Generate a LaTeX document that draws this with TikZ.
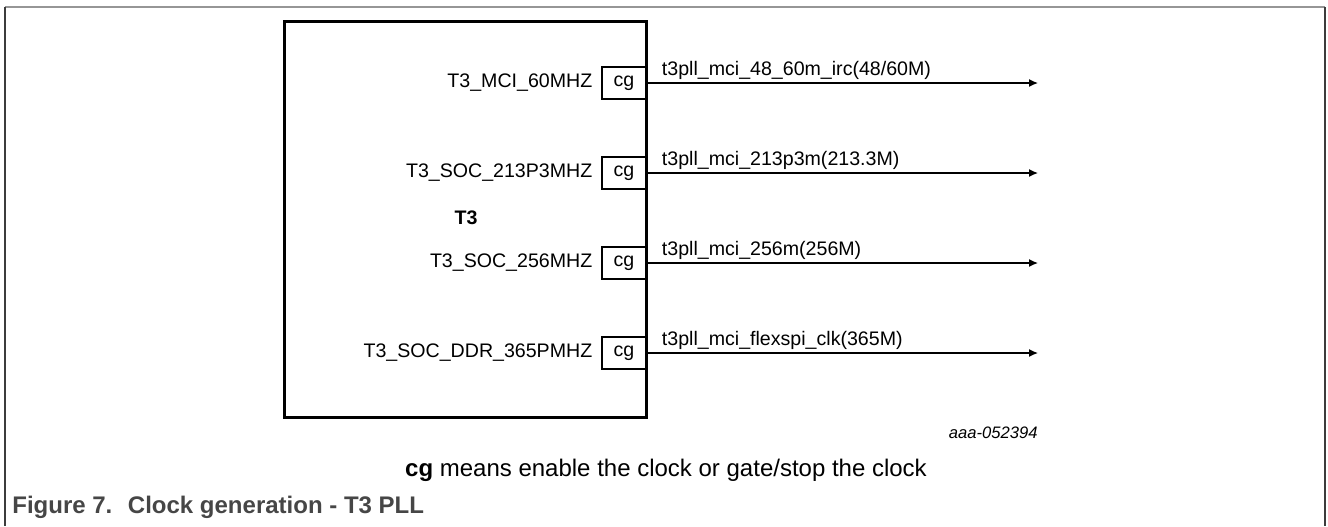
\documentclass[tikz,border=0pt]{standalone}
\usepackage{fontspec}
\setmainfont{Liberation Sans}
\usepackage{tikz}
\usetikzlibrary{positioning, arrows.meta}

\definecolor{framegray}{RGB}{150,150,150}
\definecolor{sidegray}{RGB}{60,60,60}
\definecolor{captiongray}{RGB}{70,70,70}

\begin{document}
\begin{tikzpicture}[
    x=0.5pt, y=-0.5pt,
    node distance=45pt,
    every node/.style={font=\fontsize{9.8}{11}\selectfont, inner sep=0pt},
    >={Latex[length=4.5pt, width=4pt]},
    arrow/.style={->, line width=0.65pt},
    pllbox/.style={rectangle, draw=black, line width=1.5pt, minimum width=181pt, minimum height=198pt},
    cgbox/.style={rectangle, draw=black, line width=1.3pt, minimum width=22pt, minimum height=16pt},
    clkin/.style={anchor=east},
    clkout/.style={anchor=base west, xshift=7pt, yshift=4pt}
]
\useasboundingbox (0,0) rectangle (1328,526);

% Frame
\draw [framegray, line width=1pt] (5,7) -- (1325,7);
\draw [sidegray, line width=1pt] (5,7) -- (5,526);
\draw [sidegray, line width=1pt] (1325,7) -- (1325,526);

% Nodes
\node (pll) [pllbox] at (465,219) {};
\node (cg1) [cgbox] at (624,83) {cg};
\node (cg2) [cgbox, below of=cg1] {cg};
\node (cg3) [cgbox, below of=cg2] {cg};
\node (cg4) [cgbox, below of=cg3] {cg};

\node (in1) [clkin, left=4pt of cg1] {T3\_MCI\_60MHZ};
\node (in2) [clkin, left=4pt of cg2] {T3\_SOC\_213P3MHZ};
\node (in3) [clkin, left=4pt of cg3] {T3\_SOC\_256MHZ};
\node (in4) [clkin, left=4pt of cg4] {T3\_SOC\_DDR\_365PMHZ};

\node (t3) [font=\fontsize{9.8}{11}\selectfont\bfseries] at (466,218) {T3};

% Output ends
\coordinate (tip) at (1038,0);
\coordinate (out1) at (cg1.east -| tip);
\coordinate (out2) at (cg2.east -| tip);
\coordinate (out3) at (cg3.east -| tip);
\coordinate (out4) at (cg4.east -| tip);

% Arrows
\draw [arrow] (cg1.east) -- (out1) node[clkout, pos=0]{t3pll\_mci\_48\_60m\_irc(48/60M)};
\draw [arrow] (cg2.east) -- (out2) node[clkout, pos=0]{t3pll\_mci\_213p3m(213.3M)};
\draw [arrow] (cg3.east) -- (out3) node[clkout, pos=0]{t3pll\_mci\_256m(256M)};
\draw [arrow] (cg4.east) -- (out4) node[clkout, pos=0]{t3pll\_mci\_flexspi\_clk(365M)};

% Notes
\node (docid) [anchor=east, font=\fontsize{8.3}{10}\selectfont\itshape] at (1038,433) {aaa-052394};
\node (note) [font=\fontsize{12}{14}\selectfont] at (666,470) {\textbf{cg} means enable the clock or gate/stop the clock};
\node (caption) [anchor=west, text=captiongray, font=\fontsize{12}{14}\selectfont\bfseries] at (12,507) {Figure 7.~ Clock generation - T3 PLL};
\end{tikzpicture}
\end{document}
